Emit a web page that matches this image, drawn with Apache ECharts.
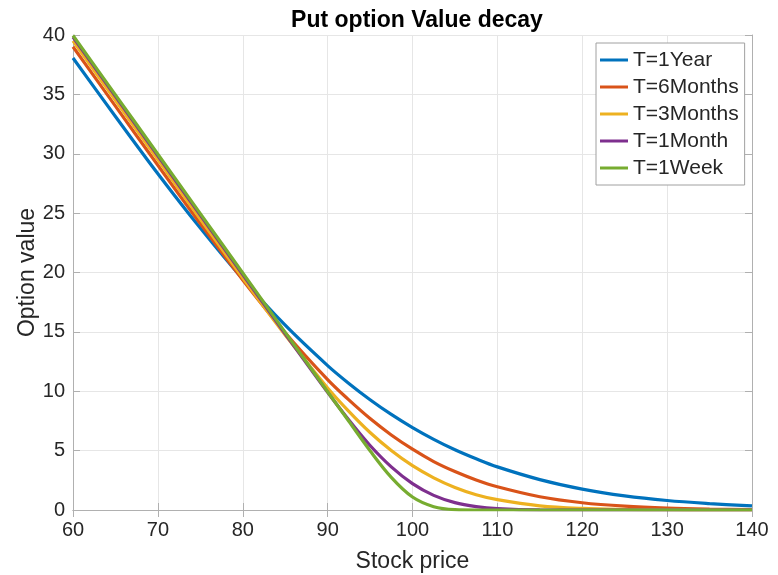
<!DOCTYPE html>
<html>
<head>
<meta charset="utf-8">
<script src="https://cdn.jsdelivr.net/npm/echarts@6/dist/echarts.min.js"></script>
<style>
  html, body { margin: 0; padding: 0; background: #fff; }
  #chart { width: 778px; height: 575px; }
</style>
</head>
<body>
<div id="chart"></div>
<script>
// Put option value against stock price for several times to expiry
const stockPrice = [60, 65, 70, 75, 80, 85, 90, 92.5, 95, 97.5, 100, 102.5, 105, 107.5, 110, 115, 120, 125, 130, 135, 140];

const put1Year   = [38.06, 33.14, 28.32, 23.74, 19.45, 15.56, 12.16, 10.66, 9.29, 8.05, 6.94, 5.95, 5.07, 4.31, 3.63, 2.56, 1.76, 1.19, 0.80, 0.54, 0.34];
const put6Months = [39.01, 34.01, 29.03, 24.12, 19.37, 14.93, 10.98, 9.27, 7.70, 6.32, 5.12, 4.08, 3.24, 2.53, 1.96, 1.12, 0.61, 0.32, 0.16, 0.08, 0.04];
const put3Months = [39.50, 34.50, 29.50, 24.51, 19.54, 14.73, 10.28, 8.31, 6.53, 5.01, 3.73, 2.71, 1.90, 1.29, 0.87, 0.35, 0.13, 0.05, 0.02, 0.01, 0.00];
const put1Month  = [39.83, 34.83, 29.83, 24.83, 19.83, 14.84, 9.91, 7.57, 5.43, 3.63, 2.22, 1.23, 0.62, 0.29, 0.12, 0.01, 0, 0, 0, 0, 0];
const put1Week   = [39.96, 34.96, 29.96, 24.96, 19.96, 14.96, 9.96, 7.47, 4.99, 2.75, 1.09, 0.28, 0.03, 0, 0, 0, 0, 0, 0, 0, 0];

const seriesNames = ['T=1Year', 'T=6Months', 'T=3Months', 'T=1Month', 'T=1Week'];
const seriesValues = [put1Year, put6Months, put3Months, put1Month, put1Week];
const seriesColors = ['#0072BD', '#D95319', '#EDB120', '#7E2F8E', '#77AC30'];

const xTicks = { min: 60, max: 140, interval: 10 };
const yTicks = { min: 0, max: 40, interval: 5 };

const axisGray = '#b0b0b0';
const textDark = '#262626';
const fontFamily = '"Liberation Sans", Arial, Helvetica, sans-serif';

const chart = echarts.init(document.getElementById('chart'), null, { renderer: 'canvas' });

// Top and right axes close the box around the plot area
const boxAxis = (pos) => ({
  position: pos,
  axisLine: { show: true, lineStyle: { color: axisGray, width: 1 } },
  axisTick: { show: true, inside: true, length: 7, lineStyle: { color: axisGray } },
  axisLabel: { show: false },
  splitLine: { show: false }
});

chart.setOption({
  animation: false,
  backgroundColor: '#ffffff',
  textStyle: { fontFamily },
  title: {
    text: 'Put option Value decay',
    left: 412,
    textAlign: 'center',
    top: 4,
    textStyle: { fontSize: 23, fontWeight: 'bold', color: '#000', fontFamily }
  },
  grid: { left: 73, right: 26, top: 35, bottom: 65, containLabel: false, outerBoundsMode: 'none' },
  legend: {
    left: 596,
    top: 43,
    orient: 'vertical',
    icon: 'rect',
    itemWidth: 28,
    itemHeight: 3,
    itemGap: 3,
    padding: [5, 6, 5, 4],
    backgroundColor: '#ffffff',
    borderColor: '#a0a0a0',
    borderWidth: 1,
    textStyle: { fontSize: 21, lineHeight: 24, color: textDark, fontFamily },
    data: seriesNames
  },
  xAxis: [
    {
      type: 'value',
      min: xTicks.min, max: xTicks.max, interval: xTicks.interval,
      name: 'Stock price',
      nameLocation: 'middle',
      nameGap: 40,
      nameTextStyle: { fontSize: 23, color: textDark, fontFamily },
      axisLine: { show: true, onZero: false, lineStyle: { color: axisGray, width: 1 } },
      axisTick: { show: true, inside: true, length: 7, lineStyle: { color: axisGray } },
      axisLabel: { fontSize: 20, color: textDark, margin: 10, fontFamily },
      splitLine: { show: true, lineStyle: { color: '#e6e6e6', width: 1 } }
    },
    Object.assign({ type: 'value', min: xTicks.min, max: xTicks.max, interval: xTicks.interval }, boxAxis('top'))
  ],
  yAxis: [
    {
      type: 'value',
      min: yTicks.min, max: yTicks.max, interval: yTicks.interval,
      name: 'Option value',
      nameLocation: 'middle',
      nameRotate: 90,
      nameGap: 34,
      nameMoveOverlap: false,
      nameTextStyle: { fontSize: 23, color: textDark, fontFamily },
      axisLine: { show: true, onZero: false, lineStyle: { color: axisGray, width: 1 } },
      axisTick: { show: true, inside: true, length: 7, lineStyle: { color: axisGray } },
      axisLabel: { fontSize: 20, color: textDark, margin: 8, fontFamily },
      splitLine: { show: true, lineStyle: { color: '#e6e6e6', width: 1 } }
    },
    Object.assign({ type: 'value', min: yTicks.min, max: yTicks.max, interval: yTicks.interval }, boxAxis('right'))
  ],
  series: seriesNames.map((name, i) => ({
    name,
    type: 'line',
    xAxisIndex: 0,
    yAxisIndex: 0,
    data: stockPrice.map((s, j) => [s, seriesValues[i][j]]),
    smooth: 0.35,
    showSymbol: false,
    clip: true,
    color: seriesColors[i],
    lineStyle: { width: 3.2, color: seriesColors[i] },
    z: 2 + i
  }))
});
</script>
</body>
</html>
